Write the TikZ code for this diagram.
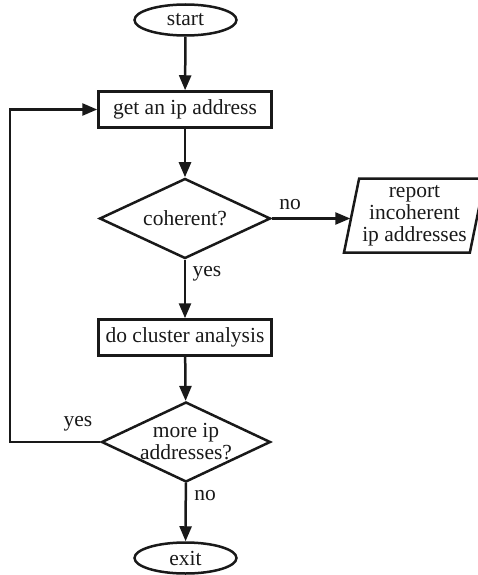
\documentclass[tikz,border=0pt]{standalone}
\usepackage{fontspec}
\setmainfont{Liberation Serif}
\usetikzlibrary{shapes.geometric,arrows.meta}
\begin{document}
\begin{tikzpicture}[x=1pt,y=-1pt,
  every node/.style={font=\fontsize{21.5}{22}\selectfont, text=black!90},
  ln/.style={line width=2.5pt, draw=black!90},
  arr/.style={ln, -{Triangle[length=15pt,width=12pt]}},
  term/.style={ln, ellipse, minimum width=102pt, minimum height=31pt, inner sep=0pt},
  proc/.style={ln, rectangle, minimum width=173pt, minimum height=36pt, inner sep=0pt},
  dec/.style={ln, diamond, minimum width=#1, minimum height=80pt, inner sep=0pt},
  io/.style={ln, trapezium, trapezium left angle=76, trapezium right angle=104,
    trapezium stretches body, minimum width=141pt, minimum height=74pt,
    inner sep=0pt, align=center},
  lab/.style={inner sep=0pt}
]
\useasboundingbox (0,0) rectangle (478,575);
\node[term] (start) at (185.5,20) {start};
\node[proc] (b1) at (185,109.5) {get an ip address};
\node[dec=171pt] (d1) at (185,218.5) {};
\node at (d1) {coherent?};
\node[io] (rep) at (414.5,215.5) {report\\incoherent\\ip addresses};
\node[proc] (b2) at (185,337.5) {do cluster analysis};
\node[dec=169pt] (d2) at (186,442) {};
\node[align=center] at (d2) {more ip\\addresses?};
\node[term] (exit) at (185.5,558) {exit};
\coordinate (loopc) at (10,0);

\draw[arr] (start) -- (b1);
\draw[arr] (b1) -- (d1);
\draw[arr] (d1.east) -- (d1.east -| rep.west);
\draw[arr] (d1) -- (b2);
\draw[arr] (b2) -- (d2);
\draw[arr] (d2) -- (exit);
\draw[arr] (d2.west) -- (d2.west -| loopc) |- (b1.west);

\node[lab] at (290,205) {no};
\node[lab] at (207,274) {yes};
\node[lab] at (78,424) {yes};
\node[lab] at (205,496) {no};
\end{tikzpicture}
\end{document}
